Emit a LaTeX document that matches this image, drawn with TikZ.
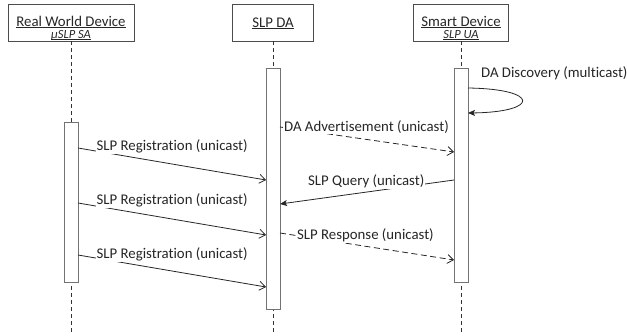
\documentclass[tikz,border=0pt]{standalone}
\usepackage{fontspec}
\setmainfont{Carlito}[Ligatures={NoCommon}]
\usetikzlibrary{arrows.meta}
\begin{document}
\begin{tikzpicture}[x=1pt,y=-1pt,
  headbox/.style={draw=black!70, line width=0.8pt, minimum width=#1, minimum height=37pt, inner sep=0pt, fill=white},
  headtxt/.style={anchor=base, inner sep=0pt, text=black!85, font=\fontsize{14.8}{16}\selectfont},
  subtxt/.style={anchor=base, inner sep=0pt, text=black!85, font=\fontsize{12.5}{14}\selectfont\itshape},
  uline/.style={draw=black!85, line width=0.6pt},
  lifeline/.style={draw=black!80, line width=0.8pt, dash pattern=on 4pt off 3pt},
  bar/.style={draw=black!55, line width=1pt, fill=white, minimum width=14pt, inner sep=0pt},
  msg/.style={draw=black!85, line width=0.8pt},
  reply/.style={msg, dash pattern=on 6pt off 3.5pt},
  opentip/.style={-{Straight Barb[length=6pt,width=9pt]}},
  filltip/.style={-{Stealth[length=7pt,width=6pt,inset=1.5pt]}},
  lbl/.style={anchor=west, inner sep=1pt, fill=white, text=black!85, font=\fontsize{14.8}{16}\selectfont}
]
\useasboundingbox (0,0) rectangle (627,335);
% heads
\node[headbox=126pt] (h1) at (71,22.5) {};
\node[headbox=81pt] (h2) at (273,22.5) {};
\node[headbox=95pt] (h3) at (461,22.5) {};
\node[headtxt] (h1a) at (71,26) {Real World Device};
\node[subtxt] (h1b) at (71,38) {µSLP SA};
\node[headtxt] (h2a) at (273,27) {SLP DA};
\node[headtxt] (h3a) at (461,26) {Smart Device};
\node[subtxt] (h3b) at (461,38) {SLP UA};
\draw[uline] ([yshift=-1.6pt]h1a.base west) -- ([yshift=-1.6pt]h1a.base east);
\draw[uline] ([yshift=-1.2pt]h1b.base west) -- ([yshift=-1.2pt]h1b.base east);
\draw[uline] ([yshift=-1.6pt]h2a.base west) -- ([yshift=-1.6pt]h2a.base east);
\draw[uline] ([yshift=-1.6pt]h3a.base west) -- ([yshift=-1.6pt]h3a.base east);
\draw[uline] ([yshift=-1.2pt]h3b.base west) -- ([yshift=-1.2pt]h3b.base east);
% lifelines
\coordinate (e1) at (71,335);
\coordinate (e2) at (273,335);
\coordinate (e3) at (461,335);
\draw[lifeline] (h1.south) -- (e1);
\draw[lifeline] (h2.south) -- (e2);
\draw[lifeline] (h3.south) -- (e3);
% activation bars
\node[bar, minimum height=160pt] (b1) at (71,202) {};
\node[bar, minimum height=241pt] (b2) at (273,188.5) {};
\node[bar, minimum height=214pt] (b3) at (461,175) {};
% endpoints
\coordinate (d0) at (468,88);
\coordinate (d1) at (468,113);
\coordinate (a0) at (280,127);
\coordinate (a1) at (454,152);
\coordinate (r1a) at (78,148);
\coordinate (r1b) at (266,180);
\coordinate (q0) at (454,180);
\coordinate (q1) at (280,204);
\coordinate (r2a) at (78,203);
\coordinate (r2b) at (266,235);
\coordinate (s0) at (280,233);
\coordinate (s1) at (454,260);
\coordinate (r3a) at (78,255);
\coordinate (r3b) at (266,287);
% messages
\draw[msg, filltip] (d0) .. controls (540,89) and (540,112) .. (d1);
\node[lbl] (ld) at (480,73) {DA Discovery (multicast)};
\draw[reply, opentip] (a0) -- (a1);
\node[lbl] (la) at (283,127) {DA Advertisement (unicast)};
\draw[msg, opentip] (r1a) -- (r1b);
\node[lbl] (l1) at (95.5,146) {SLP Registration (unicast)};
\draw[msg, filltip] (q0) -- (q1);
\node[lbl] (lq) at (307,181) {SLP Query (unicast)};
\draw[msg, opentip] (r2a) -- (r2b);
\node[lbl] (l2) at (95.5,200) {SLP Registration (unicast)};
\draw[reply, opentip] (s0) -- (s1);
\node[lbl] (ls) at (296,235) {SLP Response (unicast)};
\draw[msg, opentip] (r3a) -- (r3b);
\node[lbl] (l3) at (95.5,254) {SLP Registration (unicast)};
\end{tikzpicture}
\end{document}
